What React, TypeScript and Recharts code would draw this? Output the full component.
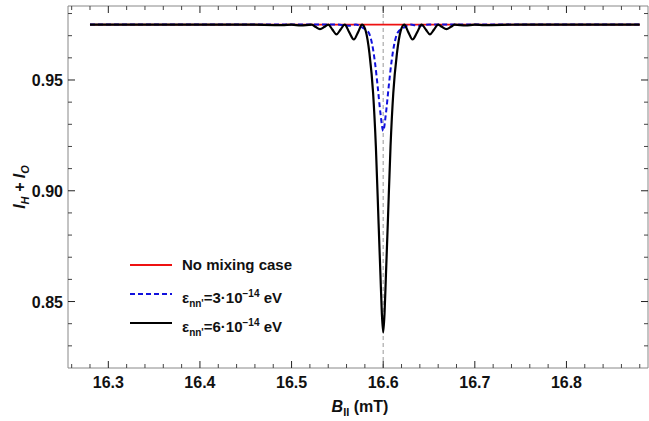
import React from "react";
import { LineChart, Line, XAxis, YAxis, ReferenceLine } from "recharts";

// field values (mT) and intensities
const bRed = [16.28, 16.88];
const iRed = [0.975, 0.975];

const bBlue = [16.28, 16.55, 16.562, 16.57, 16.578, 16.584, 16.588, 16.591, 16.594, 16.597, 16.6, 16.603, 16.606, 16.609, 16.612, 16.616, 16.622, 16.63, 16.638, 16.65, 16.88];
const iBlue = [0.975, 0.975, 0.9745, 0.975, 0.9735, 0.9715, 0.966, 0.958, 0.947, 0.935, 0.927, 0.935, 0.947, 0.958, 0.966, 0.9715, 0.9735, 0.975, 0.9745, 0.975, 0.975];

const bBlack = [16.28, 16.45, 16.49, 16.50, 16.51, 16.522, 16.526, 16.531, 16.536, 16.54, 16.5445, 16.549, 16.5535, 16.558, 16.563, 16.568, 16.5725, 16.577, 16.581, 16.585, 16.589, 16.592, 16.595, 16.597, 16.5985, 16.6, 16.6015, 16.603, 16.605, 16.608, 16.611, 16.615, 16.619, 16.623, 16.6275, 16.632, 16.637, 16.642, 16.6465, 16.651, 16.6555, 16.66, 16.664, 16.669, 16.674, 16.678, 16.69, 16.70, 16.71, 16.75, 16.88];
const iBlack = [0.975, 0.975, 0.9748, 0.975, 0.9746, 0.975, 0.974, 0.973, 0.974, 0.975, 0.9728, 0.9706, 0.9728, 0.975, 0.9715, 0.9683, 0.9715, 0.975, 0.972, 0.962, 0.944, 0.92, 0.885, 0.862, 0.845, 0.836, 0.845, 0.862, 0.885, 0.92, 0.944, 0.962, 0.972, 0.975, 0.9715, 0.9683, 0.9715, 0.975, 0.9728, 0.9706, 0.9728, 0.975, 0.974, 0.973, 0.974, 0.975, 0.9746, 0.975, 0.9748, 0.975, 0.975];

const xTicks = [16.26, 16.28, 16.3, 16.32, 16.34, 16.36, 16.38, 16.4, 16.42, 16.44, 16.46, 16.48, 16.5, 16.52, 16.54, 16.56, 16.58, 16.6, 16.62, 16.64, 16.66, 16.68, 16.7, 16.72, 16.74, 16.76, 16.78, 16.8, 16.82, 16.84, 16.86, 16.88];
const xMajor = [16.3, 16.4, 16.5, 16.6, 16.7, 16.8];
const yTicks = [0.83, 0.84, 0.85, 0.86, 0.87, 0.88, 0.89, 0.9, 0.91, 0.92, 0.93, 0.94, 0.95, 0.96, 0.97, 0.98];
const yMajor = [0.85, 0.9, 0.95];
const resonance = 16.6;

const toRows = (xs: number[], ys: number[]) => xs.map((b, i) => ({ b, v: ys[i] }));

const FONT = "'Liberation Sans', Arial, sans-serif";

function FrameTick(props: any) {
  const { x, y, payload, side, major, digits } = props;
  const v = payload.value;
  const isMajor = major.some((m: number) => Math.abs(m - v) < 1e-6);
  const len = isMajor ? 7 : 4;
  const col = isMajor ? "#222" : "#444";
  let line;
  if (side === "bottom") line = <line x1={x} y1={y} x2={x} y2={y - len} stroke={col} strokeWidth={1} />;
  else if (side === "top") line = <line x1={x} y1={y} x2={x} y2={y + len} stroke={col} strokeWidth={1} />;
  else if (side === "left") line = <line x1={x} y1={y} x2={x + len} y2={y} stroke={col} strokeWidth={1} />;
  else line = <line x1={x} y1={y} x2={x - len} y2={y} stroke={col} strokeWidth={1} />;
  let label = null;
  if (isMajor && side === "bottom")
    label = <text x={x} y={y + 19.5} textAnchor="middle" fontFamily={FONT} fontWeight="bold" fontSize={16} fill="#111">{v.toFixed(digits)}</text>;
  if (isMajor && side === "left")
    label = <text x={x - 5} y={y + 6} textAnchor="end" fontFamily={FONT} fontWeight="bold" fontSize={16} fill="#111">{v.toFixed(digits)}</text>;
  return <g>{line}{label}</g>;
}

const legendText: React.CSSProperties = { position: "absolute", left: 182, fontFamily: FONT, fontWeight: "bold", fontSize: 15, color: "#111", whiteSpace: "nowrap", lineHeight: "18px" };

function Swatch({ top, color, dash }: { top: number; color: string; dash?: string }) {
  return (
    <svg style={{ position: "absolute", left: 130, top: top - 3 }} width={42} height={6}>
      <line x1={0} y1={3} x2={42} y2={3} stroke={color} strokeWidth={2} strokeDasharray={dash} />
    </svg>
  );
}

export default function App() {
  return (
    <div style={{ position: "absolute", left: 0, top: 0, width: 649, height: 421, background: "#fff" }}>
      <LineChart width={649} height={421} margin={{ top: 5, right: 0, bottom: 52, left: 67 }}>
        <XAxis xAxisId="main" dataKey="b" type="number" domain={[16.256, 16.889]} ticks={xTicks} interval={0}
          allowDataOverflow stroke="#888" tickSize={0} tickMargin={0} height={1}
          tick={(p: any) => <FrameTick {...p} side="bottom" major={xMajor} digits={1} />} />
        <XAxis xAxisId="top" orientation="top" dataKey="b" type="number" domain={[16.256, 16.889]} ticks={xTicks} interval={0}
          allowDataOverflow stroke="#888" tickSize={0} tickMargin={0} height={1}
          tick={(p: any) => <FrameTick {...p} side="top" major={xMajor} digits={1} />} />
        <YAxis yAxisId="main" type="number" domain={[0.82, 0.9834]} ticks={yTicks} interval={0}
          allowDataOverflow stroke="#888" tickSize={0} tickMargin={0} width={1}
          tick={(p: any) => <FrameTick {...p} side="left" major={yMajor} digits={2} />} />
        <YAxis yAxisId="right" orientation="right" type="number" domain={[0.82, 0.9834]} ticks={yTicks} interval={0}
          allowDataOverflow stroke="#888" tickSize={0} tickMargin={0} width={1}
          tick={(p: any) => <FrameTick {...p} side="right" major={yMajor} digits={2} />} />
        <ReferenceLine xAxisId="main" yAxisId="main" x={resonance} stroke="#aaa" strokeWidth={1.2} strokeDasharray="4 3" />
        <Line xAxisId="main" yAxisId="main" data={toRows(bRed, iRed)} dataKey="v" stroke="#ee1111" strokeWidth={1.8} dot={false} isAnimationActive={false} />
        <Line xAxisId="main" yAxisId="main" data={toRows(bBlue, iBlue)} dataKey="v" type="monotone" stroke="#1111dd" strokeWidth={2} strokeDasharray="5 3" dot={false} isAnimationActive={false} />
        <Line xAxisId="main" yAxisId="main" data={toRows(bBlack, iBlack)} dataKey="v" type="monotone" stroke="#000" strokeWidth={2.2} dot={false} isAnimationActive={false} />
      </LineChart>

      <div style={{ position: "absolute", left: 21, top: 187, transform: "translate(-50%, -50%) rotate(-90deg)", fontFamily: FONT, fontWeight: "bold", fontStyle: "italic", fontSize: 16, color: "#111", whiteSpace: "nowrap" }}>
        I<sub style={{ fontSize: 11 }}>H</sub> + I<sub style={{ fontSize: 11 }}>O</sub>
      </div>
      <div style={{ position: "absolute", left: 360, top: 408, transform: "translate(-50%, -50%)", fontFamily: FONT, fontWeight: "bold", fontSize: 16, color: "#111", whiteSpace: "nowrap" }}>
        <i>B</i><sub style={{ fontSize: 11 }}>II</sub> (mT)
      </div>

      <Swatch top={265} color="#ee1111" />
      <div style={{ ...legendText, top: 256 }}>No mixing case</div>
      <Swatch top={294} color="#1111dd" dash="5 3" />
      <div style={{ ...legendText, top: 285 }}>ε<sub style={{ fontSize: 10 }}>nn'</sub>=3·10<sup style={{ fontSize: 10 }}>−14</sup> eV</div>
      <Swatch top={323} color="#000" />
      <div style={{ ...legendText, top: 314 }}>ε<sub style={{ fontSize: 10 }}>nn'</sub>=6·10<sup style={{ fontSize: 10 }}>−14</sup> eV</div>
    </div>
  );
}
